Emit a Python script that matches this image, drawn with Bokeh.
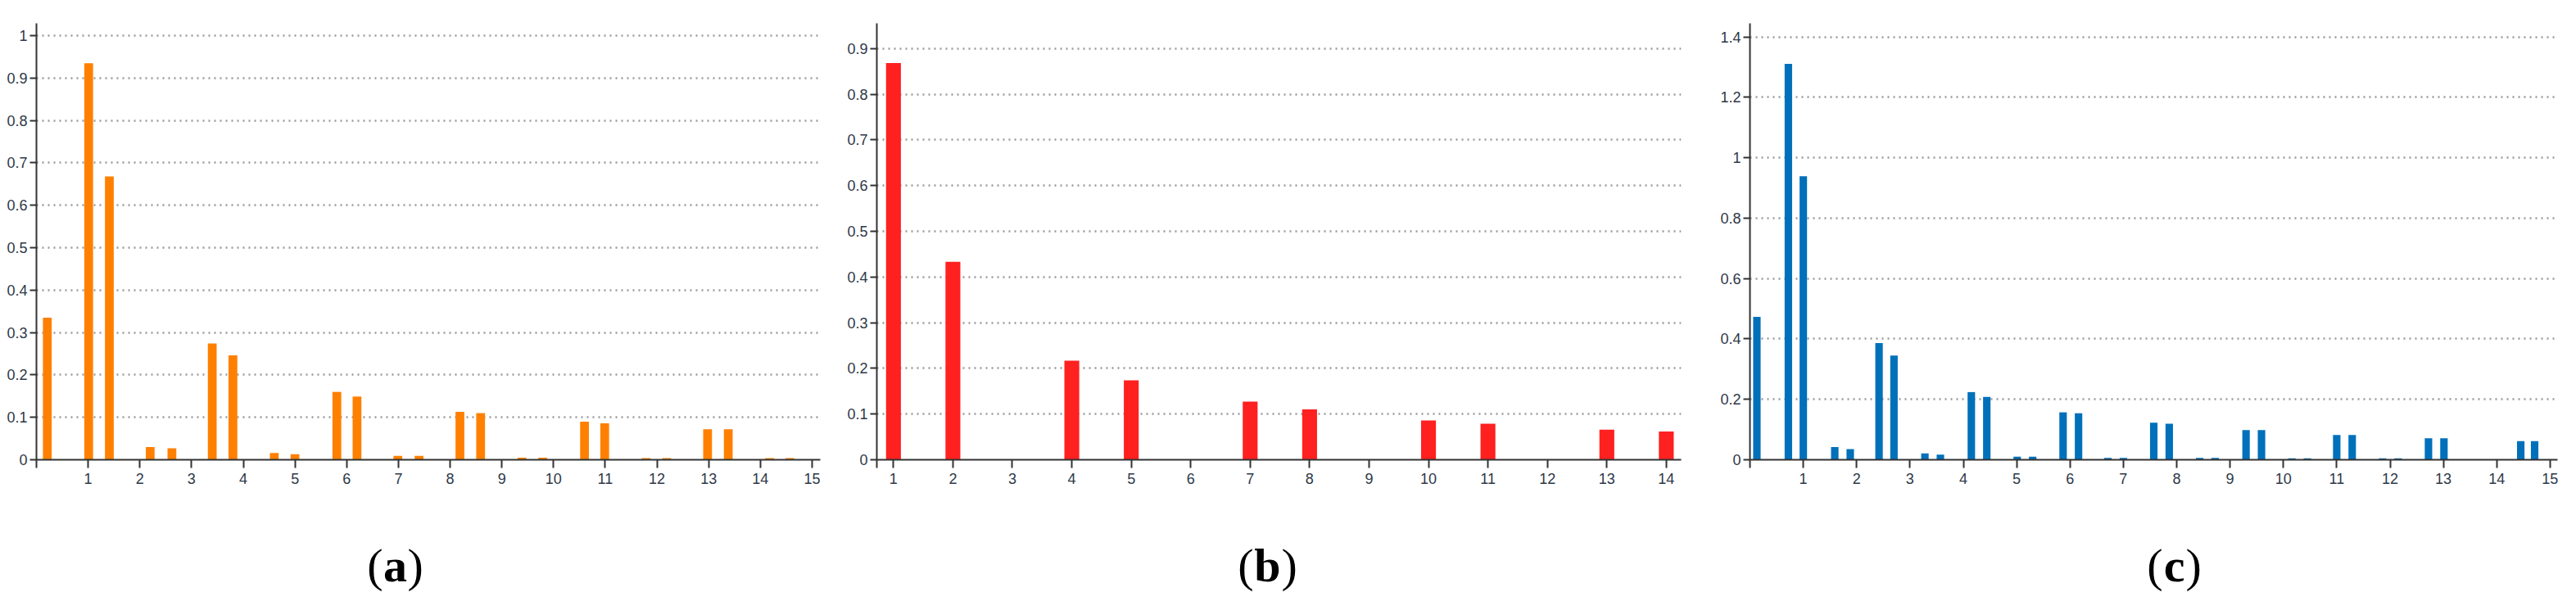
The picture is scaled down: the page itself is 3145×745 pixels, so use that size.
from bokeh.plotting import figure
from bokeh.layouts import column, row
from bokeh.models import Range1d, FixedTicker, ColumnDataSource
from bokeh.core.properties import value
from bokeh.embed import file_html
from bokeh.resources import INLINE

# ---------------- data ----------------
# panel (a)
a_x = [0.21, 1.01, 1.41, 2.20, 2.62, 3.40, 3.80, 4.60, 5.00, 5.81, 6.20, 6.99, 7.40,
       8.19, 8.59, 9.39, 9.79, 10.60, 10.99, 11.79, 12.19, 12.98, 13.38, 14.18, 14.57]
a_y = [0.335, 0.935, 0.668, 0.030, 0.027, 0.274, 0.246, 0.016, 0.013, 0.160, 0.149,
       0.009, 0.009, 0.113, 0.110, 0.005, 0.005, 0.090, 0.086, 0.004, 0.004, 0.072,
       0.072, 0.004, 0.004]
a_xticks = [0] + list(range(1, 16))
a_xlabels = [""] + [str(i) for i in range(1, 16)]
a_yticks = [0, 0.1, 0.2, 0.3, 0.4, 0.5, 0.6, 0.7, 0.8, 0.9, 1.0]
a_ylabels = ["0", "0.1", "0.2", "0.3", "0.4", "0.5", "0.6", "0.7", "0.8", "0.9", "1"]

# panel (b)
b_x = [1, 2, 3, 4, 5, 6, 7, 8, 9, 10, 11, 12, 13, 14]
b_y = [0.868, 0.433, 0.0, 0.217, 0.174, 0.0, 0.127, 0.110, 0.0, 0.086, 0.079, 0.0,
       0.066, 0.062]
b_xticks = [0.72] + list(range(1, 15))
b_xlabels = [""] + [str(i) for i in range(1, 15)]
b_yticks = [0, 0.1, 0.2, 0.3, 0.4, 0.5, 0.6, 0.7, 0.8, 0.9]
b_ylabels = ["0", "0.1", "0.2", "0.3", "0.4", "0.5", "0.6", "0.7", "0.8", "0.9"]

# panel (c)
c_x = [0.13, 0.72, 1.00, 1.59, 1.88, 2.42, 2.70, 3.28, 3.57, 4.15, 4.44, 5.01, 5.30,
       5.87, 6.16, 6.71, 7.00, 7.57, 7.86, 8.43, 8.72, 9.30, 9.59, 10.16, 10.45,
       11.00, 11.29, 11.86, 12.15, 12.72, 13.01, 14.45, 14.71]
c_y = [0.473, 1.311, 0.939, 0.042, 0.035, 0.386, 0.345, 0.021, 0.017, 0.224, 0.208,
       0.010, 0.010, 0.157, 0.154, 0.006, 0.006, 0.123, 0.119, 0.006, 0.006, 0.098,
       0.098, 0.005, 0.005, 0.082, 0.082, 0.005, 0.005, 0.071, 0.071, 0.062, 0.062]
c_xticks = [0] + list(range(1, 16))
c_xlabels = [""] + [str(i) for i in range(1, 16)]
c_yticks = [0, 0.2, 0.4, 0.6, 0.8, 1.0, 1.2, 1.4]
c_ylabels = ["0", "0.2", "0.4", "0.6", "0.8", "1", "1.2", "1.4"]

panel_letters = ["a", "b", "c"]

# ---------------- style ----------------
AXIS_COL = "#333333"
LABEL_COL = "#2e3848"
TICK_FONT = "Liberation Sans"
GRID_COL = "#9a9a9a"


def make_panel(xs, ys, color, bar_w, xr, yr, xticks, xlabels, yticks, ylabels,
               width, height, bl, br, bt, bb):
    p = figure(width=width, height=height, x_range=Range1d(*xr), y_range=Range1d(*yr),
               output_backend="svg", toolbar_location=None,
               min_border_left=bl, min_border_right=br,
               min_border_top=bt, min_border_bottom=bb)
    p.outline_line_color = None
    p.background_fill_color = "white"
    p.border_fill_color = "white"
    src = ColumnDataSource(dict(x=xs, top=ys))
    p.vbar(x="x", top="top", bottom=0, width=bar_w, source=src,
           fill_color=color, line_color=None)
    p.xgrid.grid_line_color = None
    p.ygrid.grid_line_color = GRID_COL
    p.ygrid.grid_line_width = 2.5
    p.ygrid.grid_line_dash = "2 5"
    p.ygrid.ticker = FixedTicker(ticks=yticks[1:])
    for ax in (p.xaxis[0], p.yaxis[0]):
        ax.axis_line_color = AXIS_COL
        ax.axis_line_width = 2
        ax.major_tick_line_color = AXIS_COL
        ax.major_tick_line_width = 2
        ax.minor_tick_line_color = None
        ax.major_tick_in = 0
        ax.major_label_text_font = TICK_FONT
        ax.major_label_text_font_size = "18px"
        ax.major_label_text_color = LABEL_COL
    p.xaxis.ticker = FixedTicker(ticks=xticks)
    p.xaxis.major_label_overrides = {v: s for v, s in zip(xticks, xlabels)}
    p.xaxis.major_tick_out = 10
    p.xaxis.major_label_standoff = 6
    p.yaxis.ticker = FixedTicker(ticks=yticks)
    p.yaxis.major_label_overrides = {v: s for v, s in zip(yticks, ylabels)}
    p.yaxis.major_tick_out = 8
    p.yaxis.major_label_standoff = 3
    return p


def make_label(letter, width, cx, half):
    h = 97
    p = figure(width=width, height=h, x_range=Range1d(0, width), y_range=Range1d(0, h),
               output_backend="svg", toolbar_location=None,
               x_axis_type=None, y_axis_type=None, min_border=0)
    p.outline_line_color = None
    p.grid.grid_line_color = None
    y = 39
    fs = "58px"
    p.text(x=[cx - half - 1], y=[y], text=["("], text_align="right", text_baseline="middle",
           text_font=value("Liberation Serif"), text_font_size=fs, text_color="black")
    p.text(x=[cx], y=[y], text=[letter], text_align="center", text_baseline="middle",
           text_font=value("Liberation Serif"), text_font_style="bold",
           text_font_size=fs, text_color="black")
    p.text(x=[cx + half + 1], y=[y], text=[")"], text_align="left", text_baseline="middle",
           text_font=value("Liberation Serif"), text_font_size=fs, text_color="black")
    return p


pa = make_panel(a_x, a_y, "#FF8000", 0.17, (0, 15.16), (0, 1.029), a_xticks, a_xlabels,
                a_yticks, a_ylabels, 1022, 632, 44, 21, 28, 69)
pb = make_panel(b_x, b_y, "#FF2020", 0.25, (0.72, 14.25), (0, 0.955), b_xticks, b_xlabels,
                b_yticks, b_ylabels, 1055, 632, 48, 25, 8, 71)
pc = make_panel(c_x, c_y, "#0070BA", 0.14, (0, 15.14), (0, 1.445), c_xticks, c_xlabels,
                c_yticks, c_ylabels, 1052, 632, 59, 7, 12, 67)

la = make_label(panel_letters[0], 1022, 482, 14)
lb = make_label(panel_letters[1], 1055, 525, 16)
lc = make_label(panel_letters[2], 1052, 577, 13)

layout = column(row(pa, pb, pc), row(la, lb, lc))

open("out.html", "w").write(file_html(layout, INLINE))
